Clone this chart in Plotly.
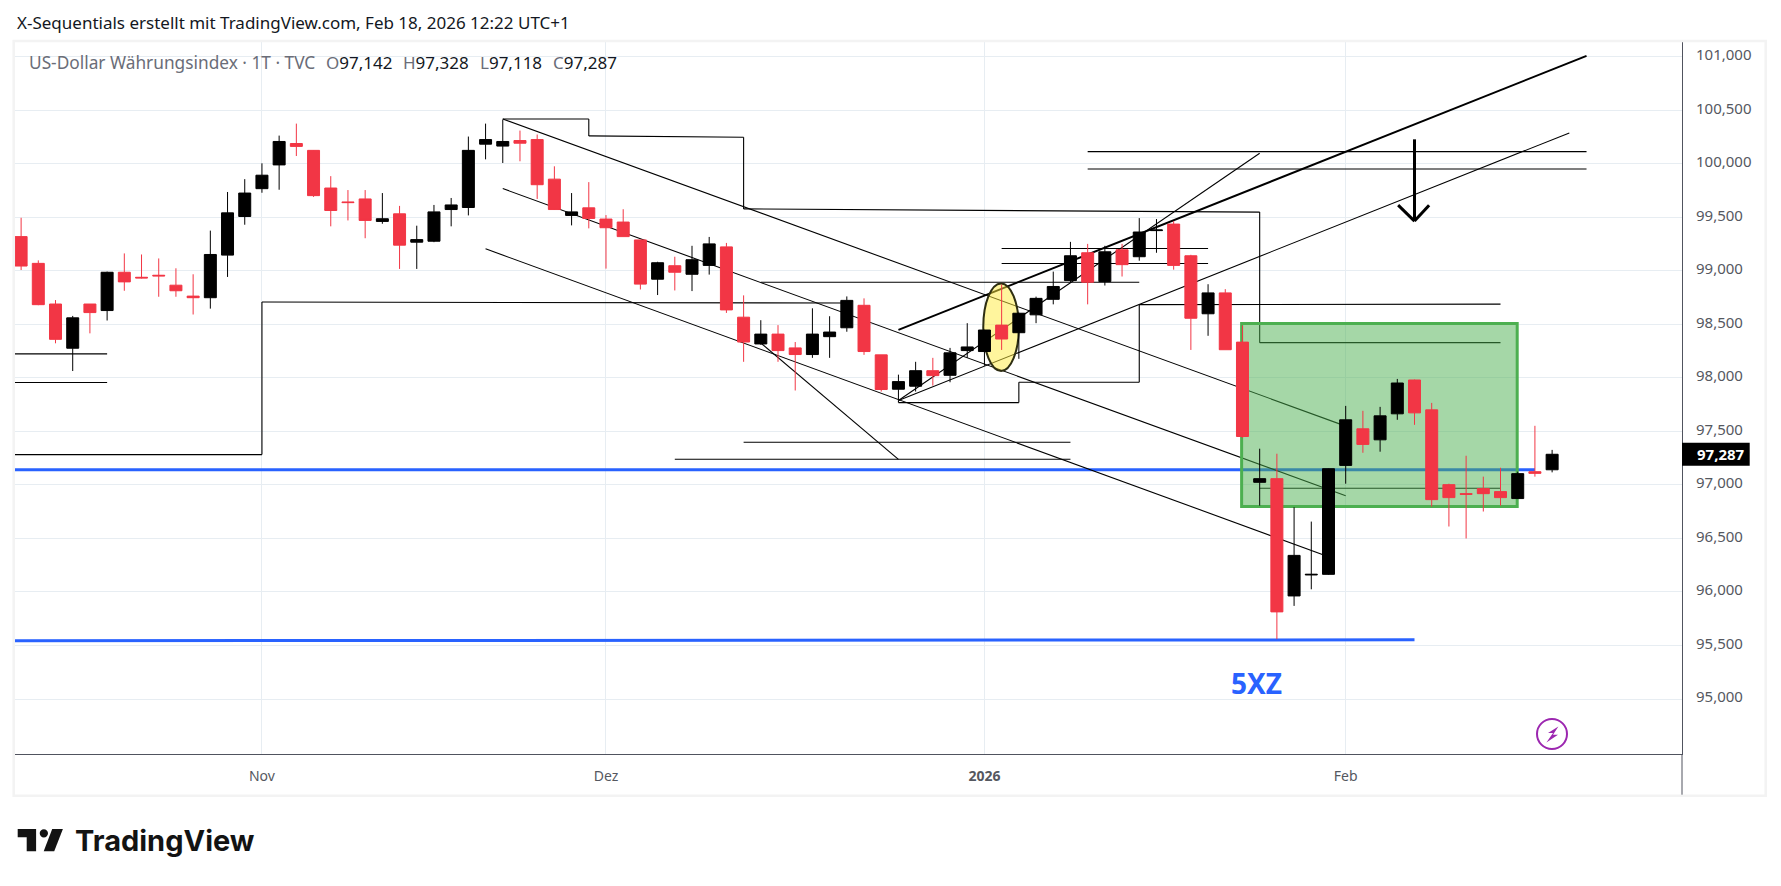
# plot.py — DXY Tageschart (TradingView-Screenshot) mit eingezeichneten Linien
import plotly.graph_objects as go

# ── Paleta ────────────────────────────────────────────────────────────────────
_UP     = "#000000"
_DOWN   = "#f23645"
_GRID   = "#e7edf2"
_FRAME  = "#f3f3f3"
_AXIS   = "#50535e"
_LABEL  = "#55585f"
_BLUE   = "#2962ff"
_FONT   = "Noto Sans, sans-serif"

W, H = 1781, 886
PLOT_L, PLOT_R, PLOT_T, PLOT_B = 15.3, 1682.3, 41.0, 754.3

# ── Kerzen (Index = Handelstag) ───────────────────────────────────────────────
opens = [
    99.321, 99.071, 98.691, 98.278, 98.691, 98.630, 98.988, 98.941, 98.960, 98.867,
    98.765, 98.750, 99.148, 99.509, 99.769, 99.991, 100.191, 100.127, 99.775, 99.645,
    99.673, 99.463, 99.534, 99.269, 99.278, 99.574, 99.593, 100.185, 100.167, 100.219,
    100.228, 99.858, 99.519, 99.590, 99.485, 99.457, 99.290, 98.923, 99.049, 98.969,
    99.052, 99.225, 98.568, 98.318, 98.410, 98.281, 98.219, 98.386, 98.469, 98.679,
    98.216, 97.895, 97.923, 98.068, 98.025, 98.256, 98.247, 98.494, 98.423, 98.590,
    98.735, 98.910, 99.170, 98.901, 99.198, 99.133, 99.377, 99.438, 99.142, 98.600,
    98.795, 98.335, 97.025, 97.059, 95.963, 96.159, 96.165, 97.183, 97.525, 97.422,
    97.665, 97.981, 97.702, 97.003, 96.919, 96.966, 96.938, 96.873, 97.124, 97.142,
]
highs = [
    99.497, 99.099, 98.728, 98.580, 98.691, 98.994, 99.164, 99.154, 99.117, 99.025,
    98.969, 99.377, 99.738, 99.858, 100.006, 100.265, 100.377, 100.130, 99.886, 99.756,
    99.756, 99.728, 99.608, 99.423, 99.617, 99.682, 100.256, 100.377, 100.414, 100.312,
    100.275, 99.978, 99.728, 99.830, 99.522, 99.577, 99.290, 99.086, 99.133, 99.235,
    99.318, 99.262, 98.772, 98.540, 98.494, 98.336, 98.651, 98.577, 98.762, 98.744,
    98.216, 98.031, 98.151, 98.188, 98.281, 98.512, 98.450, 98.873, 98.610, 98.760,
    98.994, 99.272, 99.253, 99.235, 99.253, 99.494, 99.485, 99.466, 99.151, 98.876,
    98.830, 98.490, 97.339, 97.292, 96.792, 96.658, 97.150, 97.739, 97.693, 97.730,
    97.991, 97.985, 97.767, 97.012, 97.273, 97.078, 97.161, 97.124, 97.553, 97.328,
]
lows = [
    99.009, 98.680, 98.324, 98.065, 98.417, 98.537, 98.815, 98.930, 98.759, 98.759,
    98.593, 98.648, 98.944, 99.432, 99.731, 99.759, 100.074, 99.692, 99.417, 99.472,
    99.306, 99.441, 99.019, 99.019, 99.269, 99.417, 99.519, 100.043, 100.009, 100.025,
    99.673, 99.570, 99.426, 99.398, 99.022, 99.320, 98.827, 98.775, 98.818, 98.812,
    98.966, 98.608, 98.151, 98.310, 98.151, 97.883, 98.188, 98.188, 98.432, 98.216,
    97.873, 97.793, 97.873, 97.929, 97.960, 98.188, 98.114, 98.262, 98.179, 98.512,
    98.688, 98.895, 98.688, 98.864, 98.948, 99.096, 99.170, 99.012, 98.262, 98.394,
    98.264, 97.440, 96.807, 95.559, 95.870, 96.025, 96.160, 97.012, 97.301, 97.311,
    97.609, 97.562, 96.798, 96.612, 96.500, 96.752, 96.807, 96.870, 97.078, 97.118,
]
closes = [
    99.046, 98.685, 98.361, 98.562, 98.611, 98.988, 98.898, 98.935, 98.954, 98.815,
    98.750, 99.154, 99.543, 99.728, 99.895, 100.210, 100.164, 99.704, 99.565, 99.639,
    99.472, 99.488, 99.241, 99.293, 99.552, 99.617, 100.127, 100.228, 100.210, 100.194,
    99.806, 99.574, 99.552, 99.491, 99.404, 99.321, 98.877, 99.077, 98.988, 99.105,
    99.253, 98.636, 98.336, 98.410, 98.256, 98.219, 98.410, 98.429, 98.725, 98.247,
    97.892, 97.966, 98.068, 98.022, 98.235, 98.290, 98.448, 98.364, 98.605, 98.744,
    98.855, 99.142, 98.895, 99.179, 99.059, 99.364, 99.383, 99.052, 98.558, 98.795,
    98.264, 97.453, 97.059, 95.814, 96.342, 96.165, 97.152, 97.609, 97.379, 97.646,
    97.953, 97.674, 96.863, 96.882, 96.913, 96.919, 96.882, 97.106, 97.109, 97.287,
]

# Achsen
month_ticks  = [14, 34, 56, 77]
month_labels = ["Nov", "Dez", "<b>2026</b>", "Feb"]
price_ticks  = [95.0, 95.5, 96.0, 96.5, 97.0, 97.5, 98.0, 98.5, 99.0, 99.5, 100.0, 100.5, 101.0]

# ── Zeichnungen: (Kerzenindex, Kurs) ──────────────────────────────────────────
level_a   = [(-0.355, 98.225), (5, 98.225)]
level_b   = [(-0.355, 97.957), (5, 97.957)]
step_low  = [(-0.355, 97.284), (14, 97.284), (14, 98.71), (48, 98.70)]
step_top  = [(28, 100.42), (33, 100.42), (33, 100.262), (42, 100.25), (42, 99.58), (72, 99.55), (72, 98.33), (86, 98.33)]
step_mid  = [(51, 97.79), (51, 97.77), (58, 97.77), (58, 97.96), (65, 97.96), (65, 98.685), (86, 98.69)]
channel_1 = [(28, 100.42), (77, 97.55)]
channel_2 = [(28, 99.77), (77, 96.90)]
channel_3 = [(27, 99.207), (76, 96.33)]
fan_down  = [(42.9, 98.34), (51, 97.24)]
level_c   = [(42, 97.40), (61, 97.40)]
level_d   = [(38, 97.24), (61, 97.24)]
level_e   = [(43, 98.895), (65, 98.895)]
level_f   = [(57, 99.21), (69, 99.21)]
level_g   = [(57, 99.07), (69, 99.07)]
level_h   = [(62, 100.115), (91, 100.115)]
level_i   = [(62, 99.953), (91, 99.953)]
level_j   = [(72, 96.97), (86, 96.97)]
rise_a    = [(51, 97.79), (72, 100.10)]
rise_b    = [(51, 97.79), (90, 100.29)]
thin_lines = [
    level_a, level_b, step_low, step_top, step_mid, channel_1, channel_2, channel_3, fan_down,
    level_c, level_d, level_e, level_f, level_g, level_h, level_i, level_j, rise_a, rise_b,
]
rise_thick  = [(51, 98.45), (91, 101.01)]
arrow_shaft = [(81, 100.23), (81, 99.466)]
arrow_left  = [(80.05, 99.615), (81, 99.466)]
arrow_right = [(81.85, 99.615), (81, 99.466)]
blue_upper  = [(-0.355, 97.143), (88, 97.143)]
blue_lower  = [(-0.355, 95.545), (81, 95.553)]
green_zone  = [(70.95, 98.51), (86.97, 96.80)]
yellow_oval = [(55.93, 98.884), (58.0, 98.065)]


def _px(x):
    return (x - PLOT_L) / (PLOT_R - PLOT_L)


def _py(y):
    return (PLOT_B - y) / (PLOT_B - PLOT_T)


def _path(points):
    return "M " + " L ".join(f"{_px(x):.5f} {_py(y):.5f}" for x, y in points) + " Z"


def _polyline(fig, points, color="#000000", width=1.1):
    for (x0, y0), (x1, y1) in zip(points[:-1], points[1:]):
        fig.add_shape(type="line", x0=x0, y0=y0, x1=x1, y1=y1, layer="between",
                      line=dict(color=color, width=width))


def _text(fig, x, y, text, size=15, color=_LABEL, anchor="left", family=_FONT):
    fig.add_annotation(xref="paper", yref="paper", x=_px(x), y=_py(y), text=text,
                       showarrow=False, xanchor=anchor, yanchor="middle", align="left",
                       font=dict(size=size, color=color, family=family))


fig = go.Figure()
fig.add_trace(go.Candlestick(
    x=list(range(len(opens))), open=opens, high=highs, low=lows, close=closes,
    increasing=dict(line=dict(color=_UP, width=1), fillcolor=_UP),
    decreasing=dict(line=dict(color=_DOWN, width=1), fillcolor=_DOWN),
    showlegend=False,
))

fig.update_layout(
    width=W, height=H,
    paper_bgcolor="#ffffff", plot_bgcolor="#ffffff",
    font=dict(family=_FONT, color=_LABEL, size=15),
    margin=dict(l=PLOT_L, r=W - PLOT_R, t=PLOT_T, b=H - PLOT_B, autoexpand=False),
    separators=",.",
    boxgap=0.15, boxgroupgap=0.18,
    showlegend=False,
    xaxis=dict(range=[-0.355, 96.55], tickvals=month_ticks, ticktext=month_labels,
               showgrid=True, gridcolor=_GRID, gridwidth=1, zeroline=False,
               showline=True, linecolor=_AXIS, linewidth=1,
               ticks="outside", ticklen=9, tickcolor="rgba(0,0,0,0)",
               tickfont=dict(size=14, color=_LABEL), rangeslider=dict(visible=False)),
    yaxis=dict(range=[94.486, 101.149], side="right", tickvals=price_ticks, tickformat=".3f",
               showgrid=True, gridcolor=_GRID, gridwidth=1, zeroline=False,
               showline=True, linecolor=_AXIS, linewidth=1,
               ticks="outside", ticklen=10, tickcolor="rgba(0,0,0,0)", ticklabelshift=-2,
               tickfont=dict(size=15, color=_LABEL)),
)

# Zeichnungen unter den Kerzen
_polyline(fig, blue_upper, _BLUE, 3)
_polyline(fig, blue_lower, _BLUE, 3)
for line in thin_lines:
    _polyline(fig, line)
_polyline(fig, rise_thick, width=2)
_polyline(fig, arrow_shaft, width=3)
_polyline(fig, arrow_left, width=3)
_polyline(fig, arrow_right, width=3)

fig.add_shape(type="rect", layer="between",
              x0=green_zone[0][0], y0=green_zone[0][1], x1=green_zone[1][0], y1=green_zone[1][1],
              fillcolor="rgba(76,175,80,0.5)", line=dict(color="#4caf50", width=3))
fig.add_shape(type="circle", layer="between",
              x0=yellow_oval[0][0], y0=yellow_oval[0][1], x1=yellow_oval[1][0], y1=yellow_oval[1][1],
              fillcolor="rgba(255,235,59,0.5)", line=dict(color="#2e2e12", width=2))

# Rahmen und Achsenverlängerung
fig.add_shape(type="rect", xref="paper", yref="paper",
              x0=_px(14), y0=_py(796), x1=_px(1766), y1=_py(41),
              line=dict(color=_FRAME, width=2.5), layer="above")
fig.add_shape(type="line", xref="paper", yref="paper",
              x0=_px(PLOT_R), y0=_py(PLOT_B), x1=_px(PLOT_R), y1=_py(795),
              line=dict(color=_AXIS, width=1))

# Kursmarke rechts
fig.add_shape(type="rect", xref="paper", yref="y", ysizemode="pixel", yanchor=closes[-1],
              x0=_px(PLOT_R), x1=_px(1750), y0=-11.5, y1=11.5,
              fillcolor="#000000", line=dict(width=0), layer="above")
fig.add_annotation(xref="paper", yref="y", x=_px(1695), y=closes[-1], text=f"<b>{closes[-1]:.3f}".replace(".", ",") + "</b>",
                   showarrow=False, xanchor="left", font=dict(size=15, color="#ffffff", family=_FONT))

# Texte
_text(fig, 15.3, 22, "X-Sequentials erstellt mit TradingView.com, Feb 18, 2026 12:22 UTC+1", size=17, color="#131722")
_text(fig, 26.8, 63, "US-Dollar Währungsindex · 1T · TVC", size=17.3, color="#6a6d78")
for x, head, val in [(324, "O", "97,142"), (401.7, "H", "97,328"), (478, "L", "97,118"), (551, "C", "97,287")]:
    _text(fig, x, 63, f"<span style='color:#6a6d78'>{head}</span>{val}", size=17, color="#131722")
_text(fig, 1256.5, 683, "<b>5XZ</b>", size=28, color=_BLUE, anchor="center")

# Blitz-Symbol
fig.add_shape(type="circle", xref="paper", yref="paper",
              x0=_px(1537.3), y0=_py(749.3), x1=_px(1567.3), y1=_py(719.3),
              line=dict(color="#9c27b0", width=2))
fig.add_shape(type="path", xref="paper", yref="paper", fillcolor="#9c27b0", line=dict(width=0),
              path=_path([(1558.7, 726.7), (1548.3, 733.3), (1553.3, 733.3), (1546.7, 742.7), (1558.3, 735), (1553.3, 735)]))

# TradingView-Logo
fig.add_shape(type="path", xref="paper", yref="paper", fillcolor="#131313", line=dict(width=0),
              path=_path([(18, 829.3), (36.4, 829.3), (36.4, 851.7), (27, 851.7), (27, 837.5), (18, 837.5)]))
fig.add_shape(type="circle", xref="paper", yref="paper", fillcolor="#131313", line=dict(width=0),
              x0=_px(40), y0=_py(837.8), x1=_px(48.3), y1=_py(829.5))
fig.add_shape(type="path", xref="paper", yref="paper", fillcolor="#131313", line=dict(width=0),
              path=_path([(52.5, 829.3), (63.2, 829.3), (54.5, 851.7), (44, 851.7)]))
_text(fig, 73, 841, "<b>TradingView</b>", size=29, color="#131313", family="Inter, sans-serif")

fig.write_html("out.html", config={"displayModeBar": False},
               post_script="document.body.style.margin='0';")
